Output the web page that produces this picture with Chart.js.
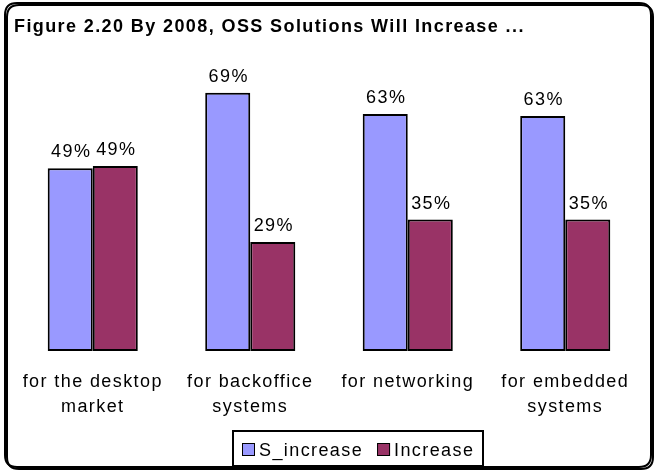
<!DOCTYPE html>
<html>
<head>
<meta charset="utf-8">
<script src="https://cdn.jsdelivr.net/npm/chart.js@4"></script>
<style>
html,body{margin:0;padding:0;background:#fff;}
canvas{display:block;}
</style>
</head>
<body>
<canvas id="c" width="657" height="471"></canvas>
<script>
const categories = [["for the desktop","market"],["for backoffice","systems"],["for networking"],["for embedded","systems"]];
const sIncrease = [48.8, 69, 63.3, 62.8];
const increase = [49.4, 29.1, 35.1, 35.1];
const seriesNames = ["S_increase", "Increase"];
const titleText = "Figure 2.20 By 2008, OSS Solutions Will Increase ...";
const FONT = "'Liberation Sans', Arial, sans-serif";
const SPACING = '1.4px';

const spacingPlugin = {
  id: 'spacing',
  beforeUpdate(c){ c.ctx.letterSpacing = SPACING; },
  beforeDraw(c){ c.ctx.letterSpacing = SPACING; }
};

const framePlugin = {
  id: 'frame',
  beforeDraw(c){
    const ctx = c.ctx;
    ctx.save();
    ctx.fillStyle = '#fff';
    ctx.fillRect(0,0,c.width,c.height);
    function rr(x,y,w,h,r){
      ctx.beginPath();
      ctx.moveTo(x+r,y);ctx.lineTo(x+w-r,y);ctx.quadraticCurveTo(x+w,y,x+w,y+r);
      ctx.lineTo(x+w,y+h-r);ctx.quadraticCurveTo(x+w,y+h,x+w-r,y+h);
      ctx.lineTo(x+r,y+h);ctx.quadraticCurveTo(x,y+h,x,y+h-r);
      ctx.lineTo(x,y+r);ctx.quadraticCurveTo(x,y,x+r,y);ctx.closePath();
    }
    ctx.strokeStyle = '#000';
    ctx.lineWidth = 2;
    rr(7,5,646,464,12); ctx.stroke();
    rr(5,3,646,464,12); ctx.stroke();
    ctx.restore();
  },
  afterDraw(c){
    // legend drawn from dataset labels / colours
    const ctx = c.ctx;
    ctx.save();
    ctx.letterSpacing = SPACING;
    ctx.font = "18px " + FONT;
    ctx.textBaseline = 'middle';
    ctx.textAlign = 'left';
    const box = 13, gapText = 4, gapItem = 14, pad = 9;
    const items = c.data.datasets.map(d => ({text: d.label, color: d.backgroundColor, w: ctx.measureText(d.label).width}));
    let total = items.reduce((s,it)=>s+box+gapText+it.w,0) + gapItem*(items.length-1);
    const cx = c.width/2 + 30;
    const cy = c.chartArea.bottom + 99;
    let x = Math.round(cx - total/2);
    ctx.strokeStyle = '#000';
    ctx.lineWidth = 2;
    ctx.strokeRect(x - pad, Math.round(cy - 19), Math.round(total + pad*2), 35);
    items.forEach(it=>{
      ctx.fillStyle = it.color;
      ctx.fillRect(x, Math.round(cy - box/2), box, box);
      ctx.lineWidth = 1;
      ctx.strokeRect(x + 0.5, Math.round(cy - box/2) + 0.5, box - 1, box - 1);
      ctx.fillStyle = '#000';
      ctx.fillText(it.text, x + box + gapText, cy + 1);
      x += box + gapText + it.w + gapItem;
    });
    ctx.restore();
  }
};

const labelPlugin = {
  id: 'barLabels',
  afterDatasetsDraw(c){
    const ctx = c.ctx;
    ctx.save();
    ctx.letterSpacing = SPACING;
    ctx.font = "18px " + FONT;
    ctx.fillStyle = '#000';
    ctx.textAlign = 'center';
    ctx.textBaseline = 'alphabetic';
    c.data.datasets.forEach((ds,i)=>{
      const meta = c.getDatasetMeta(i);
      meta.data.forEach((bar,j)=>{
        ctx.fillText(Math.round(ds.data[j]) + '%', bar.x + 1, bar.y - 11);
      });
    });
    ctx.restore();
  }
};

new Chart(document.getElementById('c'), {
  type: 'bar',
  data: {
    labels: categories,
    datasets: [
      {label: seriesNames[0], data: sIncrease, backgroundColor: '#9999FF', borderColor: '#000', borderWidth: 2, borderSkipped: false},
      {label: seriesNames[1], data: increase, backgroundColor: '#993366', borderColor: '#000', borderWidth: 2, borderSkipped: false}
    ]
  },
  options: {
    responsive: false,
    animation: false,
    devicePixelRatio: 1,
    categoryPercentage: 0.572,
    barPercentage: 1,
    layout: {padding: {left: 14, right: 13, top: 7, bottom: 40}},
    plugins: {
      title: {
        display: true, text: titleText, align: 'start', color: '#000',
        font: {family: FONT, size: 18, weight: 'bold'},
        padding: {top: 9, bottom: 14}
      },
      legend: {display: false},
      tooltip: {enabled: false}
    },
    scales: {
      x: {
        grid: {display: false}, border: {display: false},
        ticks: {color: '#000', font: {family: FONT, size: 18, lineHeight: 1.39}, padding: 11, maxRotation: 0, autoSkip: false}
      },
      y: {display: false, min: 0, max: 80}
    }
  },
  plugins: [spacingPlugin, framePlugin, labelPlugin]
});
</script>
</body>
</html>
